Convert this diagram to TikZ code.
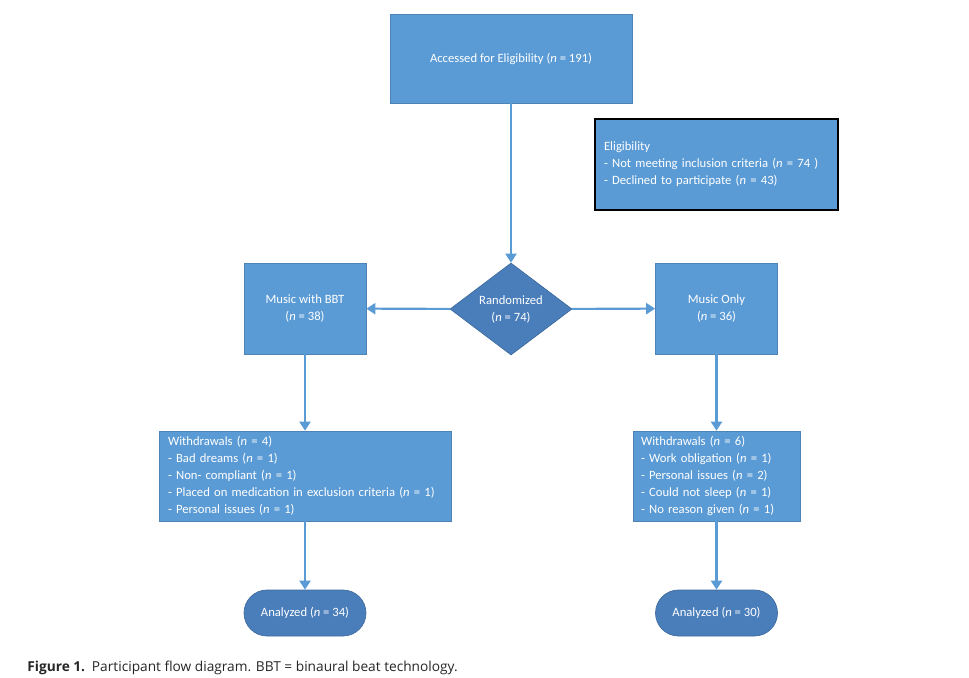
\documentclass[tikz,border=0pt]{standalone}
\usepackage{fontspec}
\setmainfont{Carlito}
\newfontfamily\capfont{Open Sans}
\usetikzlibrary{shapes.geometric,arrows.meta}
\definecolor{boxblue}{RGB}{91,155,213}
\definecolor{darkblue}{RGB}{74,126,187}
\tikzset{
    boxtext/.style={text=white, font=\fontsize{7.2}{9.7}\selectfont},
    flowbox/.style={boxtext, draw=boxblue!85!black, line width=0.4pt, fill=boxblue,
        align=center, inner sep=0pt},
    listbox/.style={boxtext, draw=boxblue!85!black, line width=0.4pt, fill=boxblue,
        align=left, inner xsep=0.18cm, inner ysep=0pt},
    decision/.style={boxtext, diamond, fill=darkblue, draw=darkblue!85!black,
        line width=0.4pt, inner sep=0pt, align=center,
        minimum width=2.44cm, minimum height=1.84cm},
    endbox/.style={boxtext, fill=darkblue, draw=darkblue!85!black, line width=0.4pt,
        rounded corners=0.46cm, minimum width=2.44cm, minimum height=0.92cm},
    flow/.style={draw=boxblue, line width=1.2pt,
        -{Triangle[width=0.22cm, length=0.18cm]}}
}
\newcommand{\nn}{\textit{n}}
\begin{document}
\begin{tikzpicture}[x=0.02cm, y=-0.02cm]
    \useasboundingbox (0, 0) rectangle (969, 677);

    \node[flowbox, minimum width=4.84cm, minimum height=1.78cm] (access) at (511, 58.5)
        {Accessed for Eligibility (\nn{} = 191)};
    \node[listbox, draw=black, line width=1pt, minimum height=1.82cm, text width=4.5cm] (elig) at (716.5, 164.5)
        {Eligibility\\- Not meeting inclusion criteria (\nn{} = 74 )\\- Declined to participate (\nn{} = 43)};

    \node[decision] (rand) at (511, 309) {Randomized\\(\nn{} = 74)};
    \node[flowbox, minimum width=2.44cm, minimum height=1.82cm] (bbt) at (305, 308.5)
        {Music with BBT\\(\nn{} = 38)};
    \node[flowbox, minimum width=2.44cm, minimum height=1.82cm] (only) at (716.5, 308.5)
        {Music Only\\(\nn{} = 36)};

    \node[listbox, minimum height=1.8cm, text width=5.48cm] (wleft) at (305, 476)
        {Withdrawals (\nn{} = 4)\\- Bad dreams (\nn{} = 1)\\- Non- compliant (\nn{} = 1)\\
         - Placed on medication in exclusion criteria (\nn{} = 1)\\- Personal issues (\nn{} = 1)};
    \node[listbox, minimum height=1.8cm, inner xsep=0.16cm, text width=3.02cm] (wright) at (716.5, 476)
        {Withdrawals (\nn{} = 6)\\- Work obligation (\nn{} = 1)\\- Personal issues (\nn{} = 2)\\
         - Could not sleep (\nn{} = 1)\\- No reason given (\nn{} = 1)};

    \node[endbox] (aleft) at (305, 613) {Analyzed (\nn{} = 34)};
    \node[endbox] (aright) at (716.5, 613) {Analyzed (\nn{} = 30)};

    \draw[flow] (access) -- (rand);
    \draw[flow] (rand) -- (bbt);
    \draw[flow] (rand) -- (only);
    \draw[flow] (bbt) -- (wleft);
    \draw[flow] (wleft) -- (aleft);
    \draw[flow] (only) -- (wright);
    \draw[flow] (wright) -- (aright);

    \node[anchor=west, inner sep=0pt, font=\capfont\fontsize{7.8}{10}\selectfont, text=black!85] (caption) at (27, 668)
        {\textbf{Figure 1.}\enspace Participant flow diagram. BBT = binaural beat technology.};
\end{tikzpicture}
\end{document}
